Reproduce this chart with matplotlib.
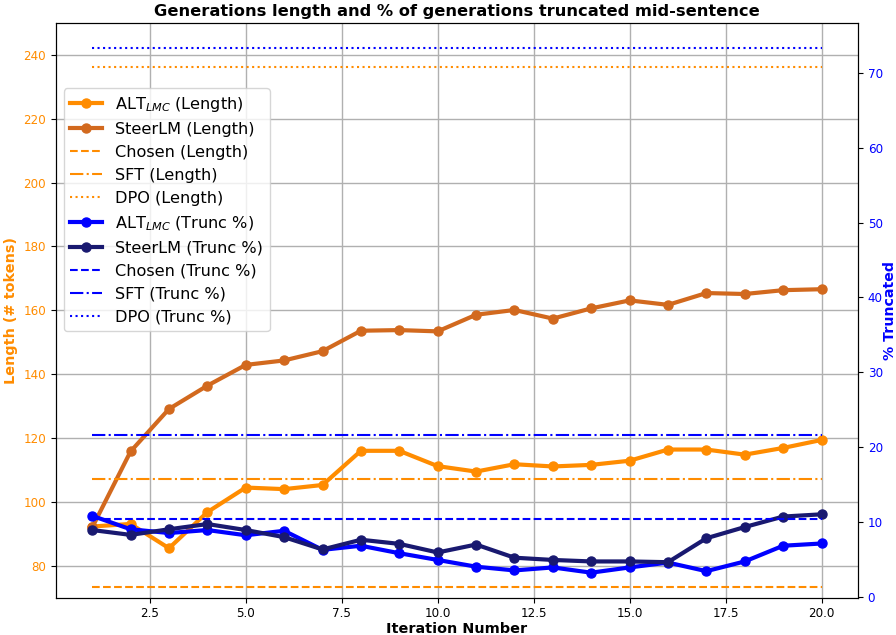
import matplotlib.pyplot as plt
import numpy as np

iterations = list(range(1, 21))

alt_length = [92.3, 93.1, 85.5, 96.8, 104.5, 104.0, 105.3, 116.0, 116.0, 111.2,
              109.5, 111.8, 111.1, 111.6, 112.9, 116.4, 116.4, 114.8, 116.9, 119.4]
steer_length = [92.0, 115.8, 129.1, 136.4, 142.9, 144.3, 147.2, 153.6, 153.8, 153.4,
                158.6, 160.1, 157.4, 160.6, 163.1, 161.7, 165.4, 165.1, 166.3, 166.6]
alt_trunc = [10.8, 9.0, 8.5, 8.9, 8.2, 8.8, 6.25, 6.8, 5.8, 4.9,
             4.0, 3.5, 3.9, 3.2, 3.9, 4.55, 3.4, 4.7, 6.8, 7.1]
steer_trunc = [8.9, 8.25, 9.0, 9.7, 8.9, 7.95, 6.3, 7.6, 7.05, 5.9,
               6.96, 5.2, 4.9, 4.7, 4.7, 4.6, 7.8, 9.3, 10.7, 11.0]

# baselines (constant over iterations)
chosen_length, sft_length, dpo_length = 73.5, 107.2, 236.3
chosen_trunc, sft_trunc, dpo_trunc = 10.35, 21.6, 73.3

ORANGE = "darkorange"
BROWN = "chocolate"
BLUE = "blue"
NAVY = "midnightblue"

fig, ax1 = plt.subplots(figsize=(8.96, 6.35), dpi=100)
fig.subplots_adjust(left=0.0622, right=0.9576, top=0.964, bottom=0.0587)
ax2 = ax1.twinx()

n = len(iterations)
ax1.plot(iterations, alt_length, marker="o", color=ORANGE, linewidth=3, markersize=6.5,
         label=r"ALT$_{LMC}$ (Length)")
ax1.plot(iterations, steer_length, marker="o", color=BROWN, linewidth=3, markersize=6.5,
         label="SteerLM (Length)")
ax1.plot(iterations, [chosen_length] * n, color=ORANGE, linestyle="--", linewidth=1.5,
         label="Chosen (Length)")
ax1.plot(iterations, [sft_length] * n, color=ORANGE, linestyle="-.", linewidth=1.5,
         label="SFT (Length)")
ax1.plot(iterations, [dpo_length] * n, color=ORANGE, linestyle=":", linewidth=1.5,
         label="DPO (Length)")

ax2.plot(iterations, alt_trunc, marker="o", color=BLUE, linewidth=3, markersize=6.5,
         label=r"ALT$_{LMC}$ (Trunc %)")
ax2.plot(iterations, steer_trunc, marker="o", color=NAVY, linewidth=3, markersize=6.5,
         label="SteerLM (Trunc %)")
ax2.plot(iterations, [chosen_trunc] * n, color=BLUE, linestyle="--", linewidth=1.5,
         label="Chosen (Trunc %)")
ax2.plot(iterations, [sft_trunc] * n, color=BLUE, linestyle="-.", linewidth=1.5,
         label="SFT (Trunc %)")
ax2.plot(iterations, [dpo_trunc] * n, color=BLUE, linestyle=":", linewidth=1.5,
         label="DPO (Trunc %)")

ax1.set_ylim(70, 250)
ax2.set_ylim(-0.15, 76.7)
ax1.grid(True, color="#b0b0b0", linewidth=1.0)
ax1.set_axisbelow(True)

ax1.set_xlabel("Iteration Number", fontweight="bold", fontsize=10.4, labelpad=1)
ax1.set_ylabel("Length (# tokens)", color=ORANGE, fontweight="bold", fontsize=10.4)
ax2.set_ylabel("% Truncated", color=BLUE, fontweight="bold", fontsize=10.2, labelpad=0)
ax1.tick_params(axis="x", labelsize=8.6)
ax1.tick_params(axis="y", labelcolor=ORANGE, labelsize=8.6)
ax2.tick_params(axis="y", labelcolor=BLUE, labelsize=8.6)
ax1.set_title("Generations length and % of generations truncated mid-sentence",
              fontweight="bold", fontsize=11.7, pad=5)

h1, l1 = ax1.get_legend_handles_labels()
h2, l2 = ax2.get_legend_handles_labels()
ax2.legend(h1 + h2, l1 + l2, loc="upper left", bbox_to_anchor=(0, 0.9),
           fontsize=11.6, labelspacing=0.5)

fig.savefig("out.png", dpi=100)
plt.close(fig)
